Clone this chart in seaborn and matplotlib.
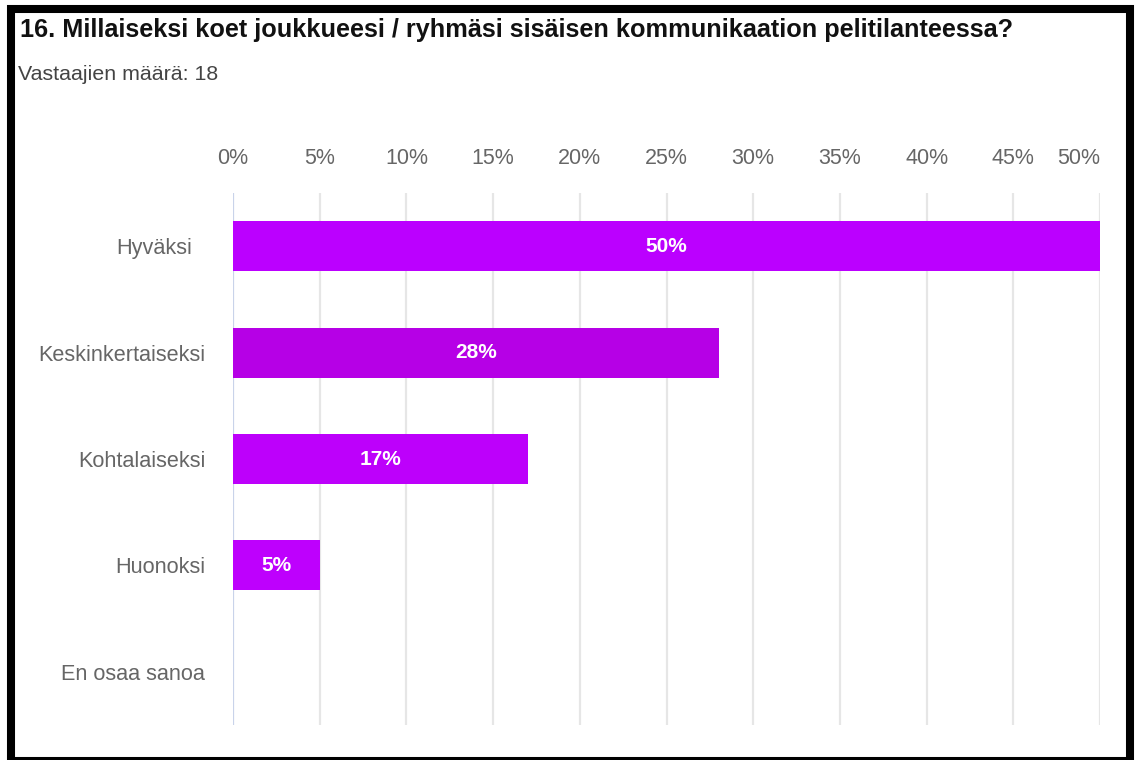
import matplotlib
matplotlib.use("Agg")
import matplotlib.pyplot as plt
import matplotlib.transforms as mtransforms
import seaborn as sns
import pandas as pd
from matplotlib.patches import Rectangle

# Survey answers (share of respondents, %)
categories = ["Hyväksi", "Keskinkertaiseksi", "Kohtalaiseksi", "Huonoksi", "En osaa sanoa"]
shares = [50, 28, 17, 5, 0]
bar_colors = ["#bb00ff", "#b600e6", "#bd00fb", "#be00fd", "#bb00ff"]
tick_values = [0, 5, 10, 15, 20, 25, 30, 35, 40, 45, 50]
tick_labels = [f"{v}%" for v in tick_values]
title_text = "16. Millaiseksi koet joukkueesi / ryhmäsi sisäisen kommunikaation pelitilanteessa?"
subtitle_text = "Vastaajien määrä: 18"

sns.set_theme(style="white")
plt.rcParams["font.family"] = ["Liberation Sans", "DejaVu Sans"]

W, H = 1136, 760
fig = plt.figure(figsize=(W / 100, H / 100), dpi=100)
fig.patch.set_facecolor("white")

# axes placed in pixel terms: x 233..1100, y 193..725 (from top)
ax = fig.add_axes([233 / W, (H - 725) / H, (1100 - 233) / W, (725 - 193) / H])

df = pd.DataFrame({"answer": categories, "share": shares})
sns.barplot(data=df, x="share", y="answer", hue="answer", palette=bar_colors,
            orient="h", width=0.47, legend=False, ax=ax, saturation=1,
            linewidth=0, zorder=3)

ax.set_xlim(0, 50)
ax.set_ylim(4.5, -0.5)
ax.set_xlabel("")
ax.set_ylabel("")
for s in ax.spines.values():
    s.set_visible(False)

# vertical grid lines
for v in tick_values:
    ax.axvline(v, color="#c9d3ea" if v == 0 else "#e6e6e6", lw=1.6, zorder=1)

ax.xaxis.tick_top()
ax.set_xticks(tick_values)
ax.set_xticklabels(tick_labels)
ax.tick_params(axis="x", length=0, pad=17, labelsize=15.5, labelcolor="#666666")
ax.tick_params(axis="y", length=0, pad=20, labelsize=15.6, labelcolor="#666666")
ax.get_xticklabels()[-1].set_ha("right")

# the first category label sits a little further left
first = ax.get_yticklabels()[0]
first.set_transform(first.get_transform() +
                    mtransforms.ScaledTranslation(-13 / 100, 0, fig.dpi_scale_trans))

# value labels inside the bars
for i, v in enumerate(shares):
    if v > 0:
        ax.text(v / 2, i, f"{v}%", ha="center", va="center", color="white",
                fontsize=15, fontweight="bold", zorder=4)

fig.text(20 / W, 1 - 30 / H, title_text, ha="left", va="center",
         fontsize=18.2, fontweight="bold", color="#111111")
fig.text(18 / W, 1 - 75 / H, subtitle_text, ha="left", va="center",
         fontsize=15.4, color="#444444")

# black frame around the whole panel
fig.patches.append(Rectangle((11 / W, 1 - 761 / H), (1130 - 11) / W, (761 - 9) / H,
                             transform=fig.transFigure, fill=False,
                             edgecolor="black", lw=5.8, zorder=10))

fig.savefig("out.png", dpi=100)
